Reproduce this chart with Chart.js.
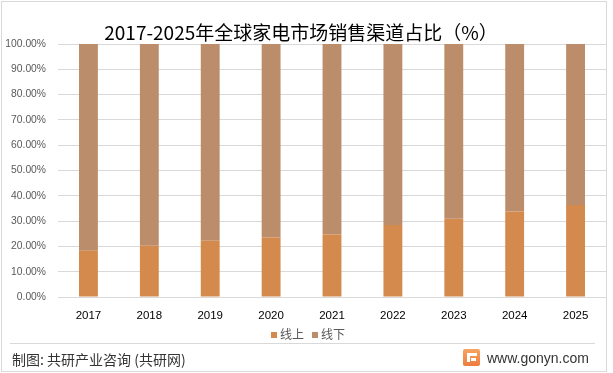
<!DOCTYPE html>
<html>
<head>
<meta charset="utf-8">
<script src="https://cdn.jsdelivr.net/npm/chart.js@4.4.1/dist/chart.umd.min.js"></script>
<style>
  html, body { margin: 0; padding: 0; background: #fff; }
  #wrap { position: relative; width: 613px; height: 373px; overflow: hidden; background: #fff; }
  #c { position: absolute; left: 0; top: 0; }
  .txt { position: absolute; white-space: nowrap; font-family: "Noto Sans CJK SC", "Noto Sans", sans-serif; }
  #frame { position: absolute; left: 1px; top: 1px; width: 604px; height: 369px; border: 1px solid #D9D9D9; pointer-events: none; }
  #title { left: 0; width: 602px; text-align: center; top: 19px; font-size: 19px; line-height: 26px; color: #000; }
  #legend { top: 325px; left: 0; width: 616px; text-align: center; font-size: 12px; line-height: 18px; color: #595959; }
  #legend .sw { display: inline-block; width: 6px; height: 6px; margin-right: 3px; vertical-align: 1px; }
  #legend .it { margin: 0 4px; }
  #fline { position: absolute; left: 10px; top: 343px; width: 585px; height: 1px; background: #D9D9D9; }
  #src { left: 12px; top: 349px; font-size: 14px; line-height: 20px; color: #333; }
  #site { left: 487px; top: 348px; font-size: 14px; line-height: 20px; color: #333; font-family: "Liberation Sans", Arial, sans-serif; }
  #logo { position: absolute; left: 463px; top: 349px; width: 17px; height: 17px; border-radius: 2px;
          background: linear-gradient(180deg, #F7A563 0%, #EE7B3E 100%); }
  #logo .a { position: absolute; left: 4px; top: 4px; width: 10px; height: 3px; background: #fff; }
  #logo .b { position: absolute; left: 4px; top: 4px; width: 3px; height: 9px; background: #fff; }
  #logo .d { position: absolute; left: 8px; top: 9px; width: 5px; height: 3px; background: #fff; }
</style>
</head>
<body>
<div id="wrap">
  <canvas id="c" width="613" height="373"></canvas>
  <div id="frame"></div>
  <div id="title" class="txt">2017-2025年全球家电市场销售渠道占比（%）</div>
  <div id="legend" class="txt"><span class="it"><span class="sw" style="background:#D38A4C"></span>线上</span><span class="it"><span class="sw" style="background:#BC8D6B"></span>线下</span></div>
  <div id="fline"></div>
  <div id="src" class="txt">制图: 共研产业咨询 (共研网)</div>
  <div id="logo"><div class="a"></div><div class="b"></div><div class="d"></div></div>
  <div id="site" class="txt">www.gonyn.com</div>
</div>
<script>
const categories = ['2017', '2018', '2019', '2020', '2021', '2022', '2023', '2024', '2025'];
const onlineShare = [18.3, 20.3, 22.2, 23.5, 24.7, 28.5, 30.9, 33.8, 36.4];
const offlineShare = [81.7, 79.7, 77.8, 76.5, 75.3, 71.5, 69.1, 66.2, 63.6];
const seriesNames = ['线上', '线下'];
const seriesColors = ['#D38A4C', '#BC8D6B'];

new Chart(document.getElementById('c'), {
  type: 'bar',
  data: {
    labels: categories,
    datasets: [
      { label: seriesNames[0], data: onlineShare, backgroundColor: seriesColors[0], barPercentage: 0.31, categoryPercentage: 1.0 },
      { label: seriesNames[1], data: offlineShare, backgroundColor: seriesColors[1], barPercentage: 0.31, categoryPercentage: 1.0 }
    ]
  },
  options: {
    responsive: false,
    animation: false,
    devicePixelRatio: 1,
    layout: { padding: { top: 44, right: 7, bottom: 0, left: 0 } },
    plugins: { legend: { display: false }, title: { display: false }, tooltip: { enabled: false } },
    scales: {
      x: {
        stacked: true,
        grid: { display: false, drawTicks: false },
        border: { display: true, color: '#D9D9D9' },
        ticks: { color: '#000', padding: 12, font: { family: 'Liberation Sans', size: 11.5 }, maxRotation: 0 },
        afterFit: (s) => { s.height = 76; }
      },
      y: {
        stacked: true,
        min: 0, max: 100,
        grid: { color: '#D9D9D9', drawTicks: false },
        border: { display: false },
        ticks: { stepSize: 10, color: '#595959', padding: 12, font: { family: 'Liberation Sans', size: 10.3 },
                 callback: (v) => v.toFixed(2) + '%' },
        afterFit: (s) => { s.width = 58; }
      }
    }
  }
});
</script>
</body>
</html>
